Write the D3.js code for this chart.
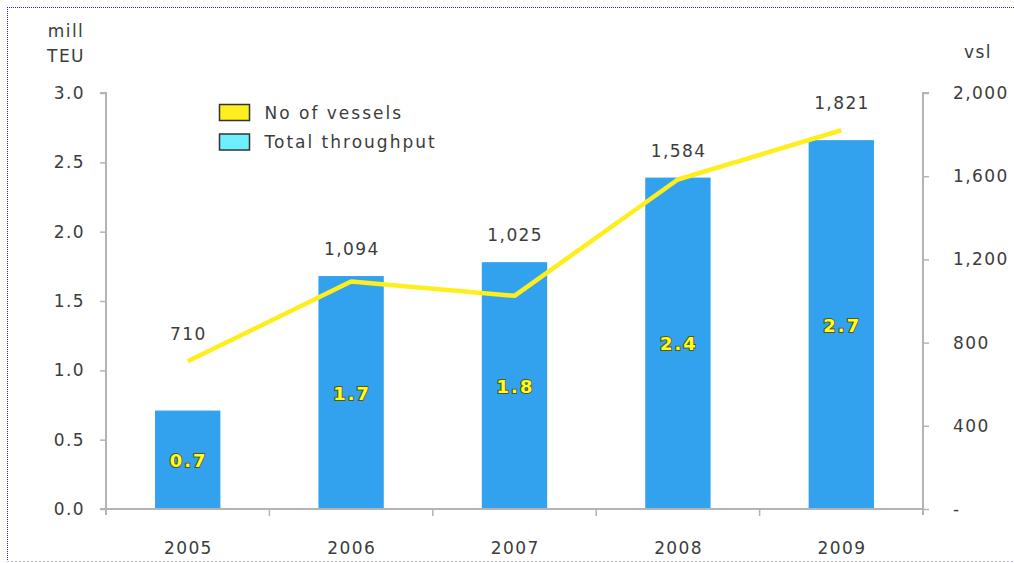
<!DOCTYPE html>
<html>
<head>
<meta charset="utf-8">
<script src="https://cdn.jsdelivr.net/npm/d3@7"></script>
<style>
  html, body { margin: 0; padding: 0; background: #ffffff; }
  svg { display: block; }
  text { font-family: "DejaVu Sans", Verdana, sans-serif; font-size: 17px; letter-spacing: 1.4px; }
</style>
</head>
<body>
<svg id="chart" width="1014" height="563"></svg>
<script>
// Port throughput (million TEU) and vessel calls per year
const years = ["2005", "2006", "2007", "2008", "2009"];
const throughput = [0.71, 1.68, 1.78, 2.39, 2.66];
const vessels = [710, 1094, 1025, 1584, 1821];
const leftTicks = [0, 0.5, 1.0, 1.5, 2.0, 2.5, 3.0];
const rightTicks = [0, 400, 800, 1200, 1600, 2000];

const svg = d3.select("#chart");
const W = 1014, H = 563;
const plot = { left: 106, right: 923, top: 93, bottom: 509 };

const BAR = "#33a2ee";
const LINE = "#ffee1e";
const AXIS = "#b4b4b4";
const TEXT = "#3c3c3c";

// Dotted frame
svg.append("line").attr("x1", 7).attr("y1", 7.5).attr("x2", W).attr("y2", 7.5)
  .attr("stroke", "#2020e8").attr("stroke-width", 1).attr("stroke-dasharray", "1,1");
svg.append("line").attr("x1", 7.5).attr("y1", 7).attr("x2", 7.5).attr("y2", H - 1)
  .attr("stroke", "#2020e8").attr("stroke-width", 1).attr("stroke-dasharray", "1,1");
svg.append("line").attr("x1", 7).attr("y1", H - 1.5).attr("x2", W).attr("y2", H - 1.5)
  .attr("stroke", "#b8b0f0").attr("stroke-width", 1).attr("stroke-dasharray", "2,2");

const x = d3.scaleBand().domain(years).range([plot.left, plot.right]).paddingInner(0.6).paddingOuter(0.3);
const xStep = (plot.right - plot.left) / years.length;
const yL = d3.scaleLinear().domain([0, 3]).range([plot.bottom, plot.top]);
const yR = d3.scaleLinear().domain([0, 2000]).range([plot.bottom, plot.top]);

// Bars
svg.append("g").selectAll("rect").data(years).join("rect")
  .attr("x", d => x(d))
  .attr("y", (d, i) => yL(throughput[i]))
  .attr("width", x.bandwidth())
  .attr("height", (d, i) => yL(0) - yL(throughput[i]))
  .attr("fill", BAR);

// Left axis
const axL = svg.append("g").attr("transform", `translate(${plot.left},0)`)
  .call(d3.axisLeft(yL).tickValues(leftTicks).tickFormat(d3.format(".1f")).tickSize(6).tickPadding(15));
axL.select(".domain").attr("stroke", AXIS).attr("stroke-width", 2).attr("d", `M-6,${plot.top}H0V${plot.bottom + 6}`);
axL.selectAll(".tick line").attr("stroke", AXIS).attr("stroke-width", 1.5);
axL.selectAll(".tick text").attr("fill", TEXT);

// Right axis
const axR = svg.append("g").attr("transform", `translate(${plot.right},0)`)
  .call(d3.axisRight(yR).tickValues(rightTicks).tickFormat(d => d === 0 ? "-" : d3.format(",")(d)).tickSize(6).tickPadding(24));
axR.select(".domain").attr("stroke", AXIS).attr("stroke-width", 2).attr("d", `M6,${plot.top}H0V${plot.bottom + 6}`);
axR.selectAll(".tick line").attr("stroke", AXIS).attr("stroke-width", 1.5);
axR.selectAll(".tick text").attr("fill", TEXT);
axL.attr("font-family", null).attr("font-size", null);
axR.attr("font-family", null).attr("font-size", null);

// Bottom axis with separators between categories
const bottom = svg.append("g");
bottom.append("line").attr("x1", plot.left - 6).attr("x2", plot.right)
  .attr("y1", plot.bottom).attr("y2", plot.bottom).attr("stroke", AXIS).attr("stroke-width", 2);
bottom.selectAll("line.sep").data(d3.range(1, years.length)).join("line")
  .attr("class", "sep")
  .attr("x1", i => plot.left + i * xStep).attr("x2", i => plot.left + i * xStep)
  .attr("y1", plot.bottom).attr("y2", plot.bottom + 7)
  .attr("stroke", AXIS).attr("stroke-width", 1.5);
bottom.selectAll("text").data(years).join("text")
  .attr("x", d => x(d) + x.bandwidth() / 2 + 0.7)
  .attr("y", 554)
  .attr("text-anchor", "middle")
  .attr("fill", TEXT)
  .text(d => d);

// Axis titles
svg.append("text").attr("x", 66).attr("y", 37).attr("text-anchor", "middle").attr("fill", TEXT).text("mill");
svg.append("text").attr("x", 66).attr("y", 62).attr("text-anchor", "middle").attr("fill", TEXT).text("TEU");
svg.append("text").attr("x", 978).attr("y", 58).attr("text-anchor", "middle").attr("fill", TEXT).text("vsl");

// Vessel line
const cx = d => x(d) + x.bandwidth() / 2;
const line = d3.line().x((d, i) => cx(years[i])).y(d => yR(d));
svg.append("path").datum(vessels)
  .attr("d", line)
  .attr("fill", "none")
  .attr("stroke", LINE)
  .attr("stroke-width", 4.5)
  .attr("stroke-linejoin", "round");

// Vessel labels above the higher of bar top and line point
svg.append("g").selectAll("text").data(vessels).join("text")
  .attr("x", (d, i) => cx(years[i]) + 0.7)
  .attr("y", (d, i) => Math.min(yR(d), yL(throughput[i])) - 21)
  .attr("text-anchor", "middle")
  .attr("fill", TEXT)
  .text(d => d3.format(",")(d));

// Throughput labels inside bars
svg.append("g").selectAll("text").data(throughput).join("text")
  .attr("x", (d, i) => cx(years[i]) + 1)
  .attr("y", d => (yL(d) + yL(0)) / 2 + 7)
  .attr("text-anchor", "middle")
  .attr("fill", "#ffff1a")
  .attr("stroke", "#55552a")
  .attr("stroke-width", 2)
  .attr("paint-order", "stroke")
  .style("font-size", "18px")
  .style("letter-spacing", "2px")
  .style("font-weight", "bold")
  .text(d => d3.format(".1f")(d));

// Legend
const legend = [
  { label: "No of vessels", fill: LINE },
  { label: "Total throughput", fill: "#6cf0ff" }
];
const lg = svg.append("g").selectAll("g").data(legend).join("g")
  .attr("transform", (d, i) => `translate(219.5,${104.5 + i * 29.5})`);
lg.append("rect").attr("width", 30).attr("height", 16).attr("fill", d => d.fill)
  .attr("stroke", "#333").attr("stroke-width", 1.5);
lg.append("text").attr("x", 45).attr("y", 14).attr("fill", TEXT)
  .style("letter-spacing", "2px").text(d => d.label);
</script>
</body>
</html>
